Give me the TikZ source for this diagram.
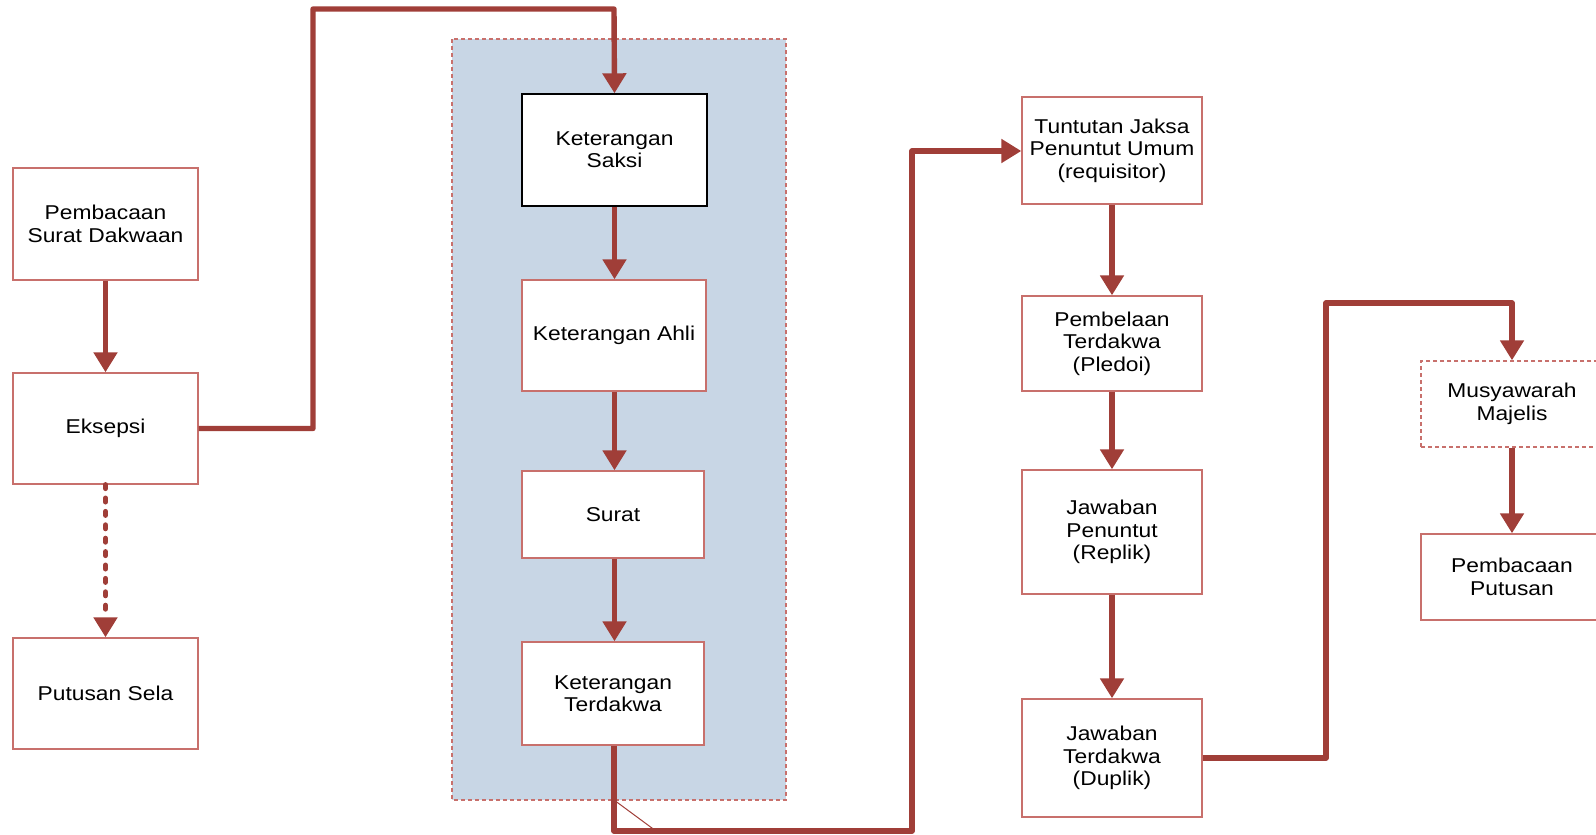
\documentclass[tikz,border=0pt]{standalone}
\usepackage{fontspec}
\setmainfont{Liberation Sans}[FakeStretch=1.14]
\usetikzlibrary{arrows.meta}
\definecolor{flow}{RGB}{160,62,56}
\definecolor{edge}{RGB}{200,112,108}
\definecolor{panel}{RGB}{200,214,229}
\tikzset{
  box/.style={draw=edge, line width=0.7pt, fill=white, align=center,
    inner sep=0pt, font=\fontsize{10}{11.2}\selectfont},
  flowline/.style={draw=flow, line width=2.7pt, line join=round,
    -{Triangle[width=11.5pt,length=10pt]}},
  dotline/.style={draw=flow, line width=2.6pt, line cap=round,
    dash pattern=on 1.9pt off 4.8pt,
    -{Triangle[width=11.5pt,length=10pt,line cap=butt]}}
}
\newcommand{\bx}[6]{% name, cx, cy, w, h, text
  \node[box, minimum width=#4*0.5pt, minimum height=#5*0.5pt] (#1) at (#2,#3) {#6};}
\begin{document}
\begin{tikzpicture}[x=0.5pt, y=-0.5pt]
\useasboundingbox (0,0) rectangle (1596,835);

% grouping panel for the evidence steps
\draw[edge, line width=0.6pt, dash pattern=on 2pt off 1.5pt, fill=panel]
  (452,39) rectangle (786,800);

% left column
\bx{pemb}{105.5}{224}{185}{112}{Pembacaan\\Surat Dakwaan}
\bx{eks}{105.5}{428.5}{185}{111}{Eksepsi}
\bx{sela}{105.5}{693.5}{185}{111}{Putusan Sela}

% evidence column
\node[box, draw=black, minimum width=92.5pt, minimum height=56pt] (saksi) at (614.5,150) {Keterangan\\Saksi};
\bx{ahli}{614}{335.5}{184}{111}{Keterangan Ahli}
\bx{surat}{613}{514.5}{182}{87}{Surat}
\bx{terd}{613}{693.5}{182}{103}{Keterangan\\Terdakwa}

% closing column
\bx{tunt}{1112}{150.5}{180}{107}{Tuntutan Jaksa\\Penuntut Umum\\(requisitor)}
\bx{pled}{1112}{343.5}{180}{95}{Pembelaan\\Terdakwa\\(Pledoi)}
\bx{repl}{1112}{532}{180}{124}{Jawaban\\Penuntut\\(Replik)}
\bx{dupl}{1112}{758}{180}{118}{Jawaban\\Terdakwa\\(Duplik)}

% verdict column
\node[box, dashed, dash pattern=on 2pt off 1.5pt, minimum width=91pt, minimum height=43pt] (musy) at (1512,404) {Musyawarah\\Majelis};
\bx{put}{1512}{577}{182}{86}{Pembacaan\\Putusan}

% turning points of the long connectors
\coordinate (e1) at (313,428.5);
\coordinate (e2) at (313,9);
\coordinate (e3) at (614,9);
\coordinate (t1) at (614,831);
\coordinate (t2) at (912,831);
\coordinate (t3) at (912,151);
\coordinate (d1) at (1326,758);
\coordinate (d2) at (1326,303);
\coordinate (d3) at (1512,303);

% connectors
\draw[flowline] (pemb.south) -- (eks.north);
\draw[dotline] (eks.south) -- (sela.north);
\draw[flowline] (eks.east) -- (e1) -- (e2) -- (e3) -- (saksi.north);
\draw[flowline] (saksi.south) -- (ahli.north -| saksi.south);
\draw[flowline] (ahli.south -| saksi.south) -- (surat.north -| saksi.south);
\draw[flowline] (surat.south -| saksi.south) -- (terd.north -| saksi.south);
\draw[flowline] (terd.south -| t1) -- (t1) -- (t2) -- (t3) -- (tunt.west |- t3);
\draw[draw=flow, line width=0.5pt] (614,800) -- (656,831);
\draw[flowline] (tunt.south) -- (pled.north);
\draw[flowline] (pled.south) -- (repl.north);
\draw[flowline] (repl.south) -- (dupl.north);
\draw[flowline] (dupl.east) -- (d1) -- (d2) -- (d3) -- (musy.north);
\draw[flowline] (musy.south) -- (put.north);
\end{tikzpicture}
\end{document}
